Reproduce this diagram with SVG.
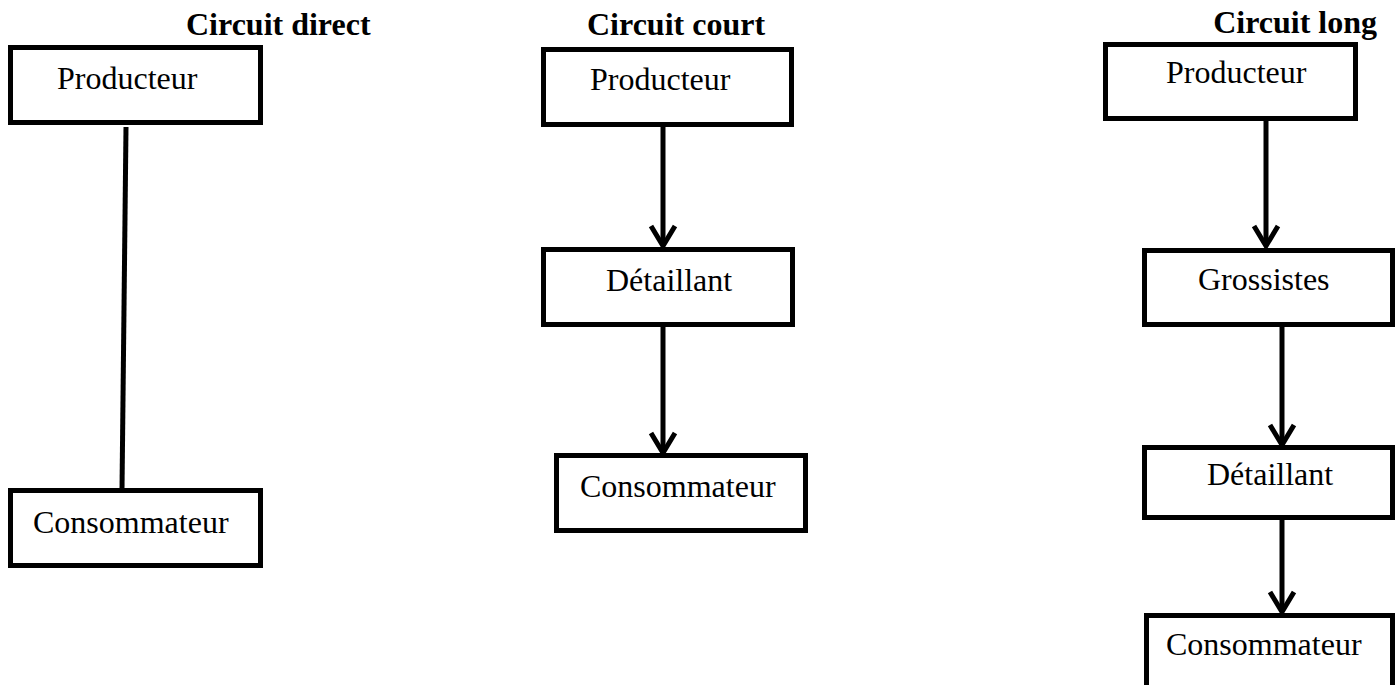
<svg xmlns="http://www.w3.org/2000/svg" width="1396" height="685" viewBox="0 0 1396 685">
<style>
  .box { fill: #fff; stroke: #000; stroke-width: 5; }
  .lbl { font-family: "Liberation Serif", "Times New Roman", serif; font-size: 32px; fill: #000; }
  .ttl { font-family: "Liberation Serif", "Times New Roman", serif; font-size: 32px; font-weight: bold; fill: #000; }
  .edge { stroke: #000; stroke-width: 5; fill: none; }
  .arrow { marker-end: url(#chev); }
</style>
<defs>
  <marker id="chev" markerUnits="userSpaceOnUse" viewBox="-26 -16 32 32" refX="0" refY="0" markerWidth="32" markerHeight="32" orient="auto" overflow="visible">
    <path d="M -20 -12 L 0 0 L -20 12" fill="none" stroke="#000" stroke-width="5"/>
  </marker>
</defs>
<rect width="1396" height="685" fill="#fff"/>

<g id="titles">
  <text class="ttl" x="186" y="35">Circuit direct</text>
  <text class="ttl" x="587" y="35">Circuit court</text>
  <text class="ttl" x="1377" y="33" text-anchor="end">Circuit long</text>
</g>

<g id="connectors">
  <line class="edge" x1="126" y1="127" x2="122" y2="490"/>
  <line class="edge arrow" x1="663" y1="127" x2="663" y2="246"/>
  <line class="edge arrow" x1="663" y1="327" x2="663" y2="453"/>
  <line class="edge arrow" x1="1266" y1="121" x2="1266" y2="246"/>
  <line class="edge arrow" x1="1282" y1="327" x2="1282" y2="445"/>
  <line class="edge arrow" x1="1282" y1="520" x2="1282" y2="612"/>
</g>

<g id="direct-producteur">
  <rect class="box" x="10.5" y="47.5" width="250" height="75"/>
  <text class="lbl" x="57" y="89">Producteur</text>
</g>
<g id="direct-consommateur">
  <rect class="box" x="10.5" y="490.5" width="250" height="75"/>
  <text class="lbl" x="33" y="533">Consommateur</text>
</g>

<g id="court-producteur">
  <rect class="box" x="543.5" y="49.5" width="248" height="75"/>
  <text class="lbl" x="590" y="90">Producteur</text>
</g>
<g id="court-detaillant">
  <rect class="box" x="543.5" y="249.5" width="249" height="75"/>
  <text class="lbl" x="606" y="291">Détaillant</text>
</g>
<g id="court-consommateur">
  <rect class="box" x="556.5" y="455.5" width="249" height="75"/>
  <text class="lbl" x="580" y="497">Consommateur</text>
</g>

<g id="long-producteur">
  <rect class="box" x="1105.5" y="44.5" width="250" height="74"/>
  <text class="lbl" x="1166" y="83">Producteur</text>
</g>
<g id="long-grossistes">
  <rect class="box" x="1144.5" y="250.5" width="248" height="74"/>
  <text class="lbl" x="1198" y="290">Grossistes</text>
</g>
<g id="long-detaillant">
  <rect class="box" x="1144.5" y="447.5" width="248" height="70"/>
  <text class="lbl" x="1207" y="485">Détaillant</text>
</g>
<g id="long-consommateur">
  <rect class="box" x="1146.5" y="615.5" width="246" height="100"/>
  <text class="lbl" x="1166" y="655">Consommateur</text>
</g>
</svg>
